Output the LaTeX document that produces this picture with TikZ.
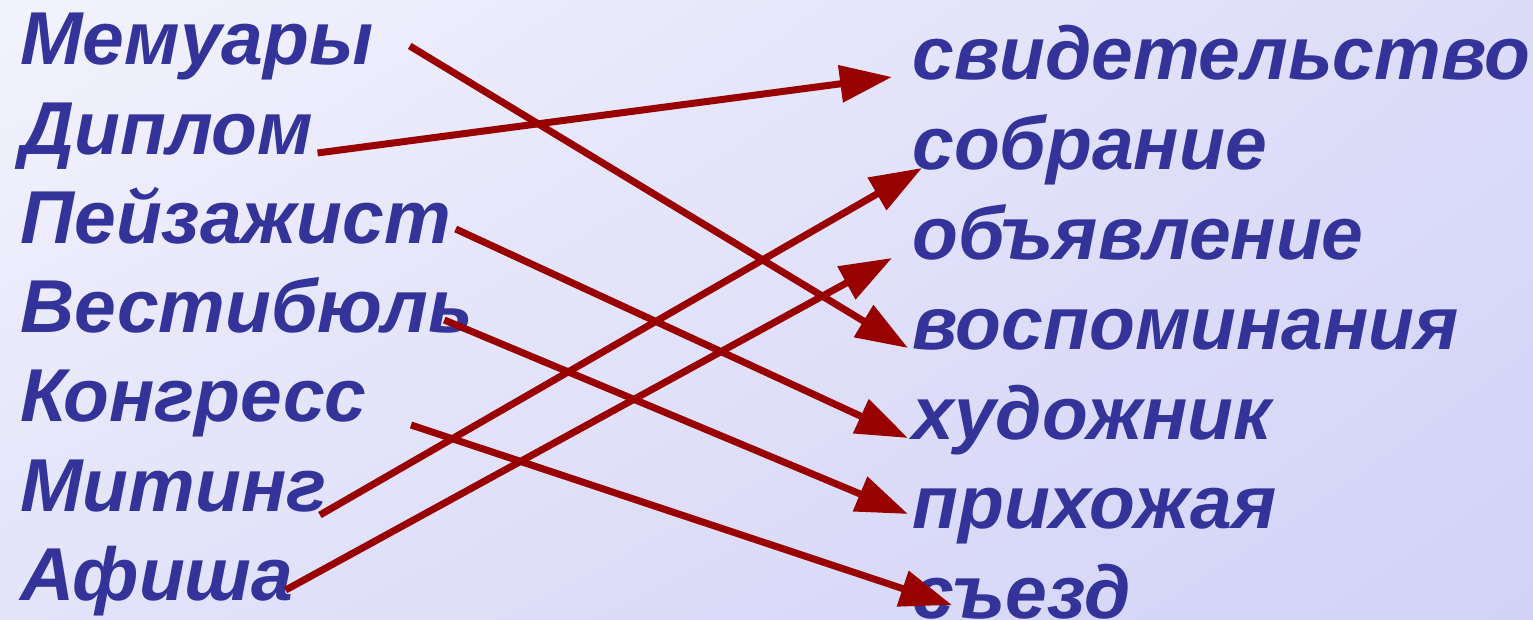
\documentclass[tikz,border=0pt]{standalone}
\usepackage{fontspec}
\setmainfont{Liberation Sans}
\usetikzlibrary{arrows.meta,shadings}
\definecolor{wordblue}{HTML}{333399}
\definecolor{linkred}{HTML}{990000}
\definecolor{bgUL}{HTML}{F3F3FD}
\definecolor{bgLL}{HTML}{E3E3FA}
\definecolor{bgUR}{HTML}{DCDCF9}
\definecolor{bgLR}{HTML}{D2D2F7}

\begin{document}
\begin{tikzpicture}[
  x=0.5pt, y=-0.5pt,
  word/.style={font=\fontsize{37.5}{40}\selectfont\bfseries\itshape, text=wordblue,
               inner sep=0pt, anchor=base west},
  link/.style={-{Triangle[length=26pt,width=18pt]}, line width=3.5pt, draw=linkred},
]
%% ── BACKGROUND ──────────────────────────────────────────────────────────────
\shade[upper left=bgUL, lower left=bgLL, upper right=bgUR, lower right=bgLR]
  (0,0) rectangle (1533,620);

%% ── LEFT COLUMN: words ──────────────────────────────────────────────────────
\node[word] (mem)  at (20,65)  {Мемуары};
\node[word] (dip)  at (20,155) {Диплом};
\node[word] (pej)  at (20,244) {Пейзажист};
\node[word] (vest) at (20,333) {Вестибюль};
\node[word] (kong) at (20,422) {Конгресс};
\node[word] (mit)  at (20,511) {Митинг};
\node[word] (afi)  at (20,600) {Афиша};

%% ── RIGHT COLUMN: meanings ──────────────────────────────────────────────────
\node[word] (svid)  at (912,80)  {свидетельство};
\node[word] (sobr)  at (912,170) {собрание};
\node[word] (obj)   at (912,260) {объявление};
\node[word] (vosp)  at (912,350) {воспоминания};
\node[word] (hud)   at (912,440) {художник};
\node[word] (prih)  at (912,529) {прихожая};
\node[word] (sjezd) at (912,618) {съезд};

%% ── LINKS ───────────────────────────────────────────────────────────────────
\draw[link] ([shift={(36,-19)}]mem.base east)  -- ([shift={(-4,-2)}]vosp.base west);
\draw[link] ([shift={(4,-2)}]dip.base east)    -- ([shift={(-20,-3)}]svid.base west);
\draw[link] ([shift={(4,-15)}]pej.base east)   -- ([shift={(-4,-2)}]hud.base west);
\draw[link] ([shift={(-29,-13)}]vest.base east) -- ([shift={(-4,-15)}]prih.base west);
\draw[link] ([shift={(44,3)}]kong.base east)   -- ([shift={(40,-13)}]sjezd.base west);
\draw[link] ([shift={(-7,4)}]mit.base east)    -- ([shift={(10,-2)}]sobr.base west);
\draw[link] ([shift={(-8,-10)}]afi.base east)  -- ([shift={(-20,-2)}]obj.base west);
\end{tikzpicture}
\end{document}
